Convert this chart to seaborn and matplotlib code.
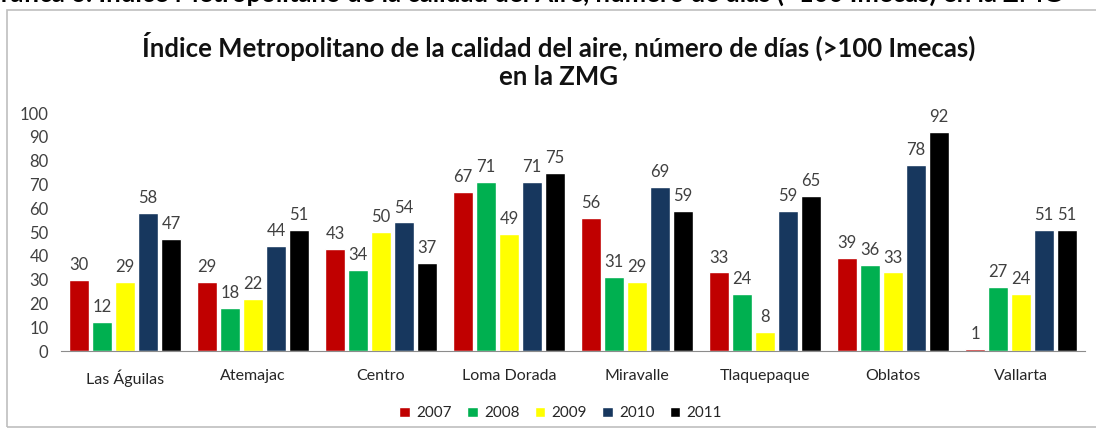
import pandas as pd
import seaborn as sns
import matplotlib.pyplot as plt
from matplotlib.patches import Rectangle

# data
stations = ['Las Águilas', 'Atemajac', 'Centro', 'Loma Dorada',
            'Miravalle', 'Tlaquepaque', 'Oblatos', 'Vallarta']
years = ['2007', '2008', '2009', '2010', '2011']
days_2007 = [30, 29, 43, 67, 56, 33, 39, 1]
days_2008 = [12, 18, 34, 71, 31, 24, 36, 27]
days_2009 = [29, 22, 50, 49, 29, 8, 33, 24]
days_2010 = [58, 44, 54, 71, 69, 59, 78, 51]
days_2011 = [47, 51, 37, 75, 59, 65, 92, 51]
colors = ['#C00000', '#00B050', '#FFFF00', '#17375E', '#000000']

series = [days_2007, days_2008, days_2009, days_2010, days_2011]
df = pd.DataFrame({
    'station': stations * len(years),
    'year': [y for y in years for _ in stations],
    'days': [v for s in series for v in s],
})

sns.set_style('white')
plt.rcParams['font.family'] = ['Lato', 'DejaVu Sans']

fig = plt.figure(figsize=(10.96, 4.32), dpi=100)
ax = fig.add_axes([0.0557, 0.1875, 0.9343, 0.5509])

sns.barplot(data=df, x='station', y='days', hue='year', palette=colors,
            width=0.9, gap=0.15, saturation=1, ax=ax, legend=True)

# value labels above the bars
for container in ax.containers:
    ax.bar_label(container, padding=5, fontsize=12, color='#404040')

ax.set_ylim(0, 100)
ax.set_yticks(range(0, 101, 10))
ax.set_xlim(-0.5, len(stations) - 0.5)
ax.set_xlabel('')
ax.set_ylabel('')
ax.tick_params(axis='y', labelsize=12, colors='#404040', pad=9, length=0)
ax.tick_params(axis='x', labelsize=11.5, colors='#262626', pad=13, length=0)
for side in ['top', 'right', 'left']:
    ax.spines[side].set_visible(False)
ax.spines['bottom'].set_color('#8c8c8c')

ax.legend(loc='upper center', bbox_to_anchor=(0.488, -0.175), ncol=5,
          frameon=False, fontsize=11, handlelength=0.7, handleheight=0.7,
          handletextpad=0.4, columnspacing=1.0, labelcolor='#262626')

fig.text(0.51, 0.861,
         'Índice Metropolitano de la calidad del aire, número de días (>100 Imecas)\nen la ZMG',
         ha='center', va='center', fontsize=18.5, fontweight='bold',
         color='#111111', linespacing=1.2)

# caption of the source document, cut off at the top of the picture
fig.text(-0.016, 1.02,
         'Gráfica 6. Índice Metropolitano de la calidad del Aire, número de días (>100 Imecas) en la ZMG',
         ha='left', va='center', fontsize=18.5, fontweight='bold', color='black')

# chart frame
fig.patches.append(Rectangle((0.0065, 0.012), 1.0, 0.965, transform=fig.transFigure,
                             fill=False, edgecolor='#bfbfbf', linewidth=1.2))

fig.savefig('out.png', dpi=100)
